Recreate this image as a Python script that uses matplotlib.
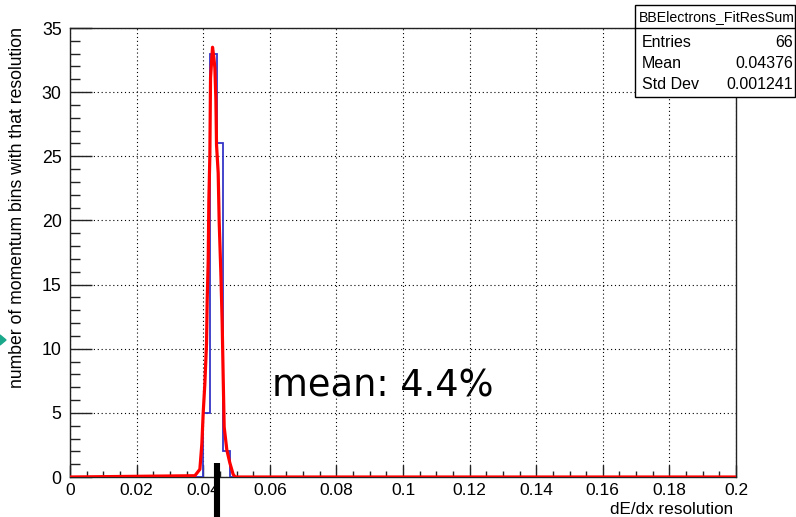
import numpy as np
import matplotlib
matplotlib.use('Agg')
import matplotlib.pyplot as plt
from matplotlib.patches import Rectangle, Polygon
from matplotlib.ticker import MultipleLocator

# histogram: 100 bins over 0..0.2, only a few filled
n_bins = 100
x_range = (0.0, 0.2)
filled_bins = [20, 21, 22, 23]          # bin index
filled_counts = [5, 33, 26, 2]

# fit curve as drawn
fit_x = [0.0, 0.0375, 0.0390, 0.0396, 0.0400, 0.0405, 0.0410, 0.0412, 0.0415, 0.0417,
         0.0420, 0.0422, 0.0428, 0.0432, 0.0435, 0.0438, 0.0440, 0.0445, 0.0448, 0.0453,
         0.0457, 0.0460, 0.0463, 0.0471, 0.0480, 0.0490, 0.0496, 0.2]
fit_y = [0.0, 0.1, 0.6, 2.6, 5.0, 7.3, 10.4, 13.8, 16.8, 21.6,
         25.1, 31.1, 33.5, 32.7, 31.9, 29.5, 25.9, 23.7, 19.9, 15.9,
         12.0, 7.8, 3.9, 2.1, 1.1, 0.2, 0.0, 0.0]

mean_marker = 0.044
mean_text = 'mean: 4.4%'

stats_title = 'BBElectrons_FitResSum'
stats_names = ['Entries', 'Mean', 'Std Dev']
stats_values = ['66', '0.04376', '0.001241']

x_title = 'dE/dx resolution'
y_title = 'number of momentum bins with that resolution'

plt.rcParams['font.family'] = ['Liberation Sans', 'DejaVu Sans']

W, H = 796, 517
fig = plt.figure(figsize=(W / 100, H / 100), dpi=100)
fig.patch.set_facecolor('white')

def fx(px):
	return px / W

def fy(py):
	return 1 - py / H

ax = fig.add_axes([fx(70), fy(477), (736 - 70) / W, (477 - 28) / H])

counts = np.zeros(n_bins)
for b, c in zip(filled_bins, filled_counts):
	counts[b] = c
edges = np.linspace(x_range[0], x_range[1], n_bins + 1)
ax.stairs(counts, edges, color='#3535c8', lw=1.3, zorder=3)
ax.plot(fit_x, fit_y, color='#ff0000', lw=2.3, zorder=4)

ax.set_xlim(*x_range)
ax.set_ylim(0, 35)
ax.xaxis.set_major_locator(MultipleLocator(0.02))
ax.xaxis.set_minor_locator(MultipleLocator(0.005))
ax.yaxis.set_major_locator(MultipleLocator(5))
ax.yaxis.set_minor_locator(MultipleLocator(1))
ax.xaxis.set_major_formatter(lambda v, p: '%g' % round(v, 4))
ax.grid(which='major', color='black', linestyle=(0, (1, 2.5)), lw=0.8, zorder=1)
ax.tick_params(axis='x', which='major', direction='in', length=9, width=1, labelsize=12.5, pad=4, color='#222222')
ax.tick_params(axis='x', which='minor', direction='in', length=4.5, width=1, color='#222222')
ax.tick_params(axis='y', which='major', direction='in', length=16, width=1, labelsize=12.8, pad=6, color='#222222')
ax.tick_params(axis='y', which='minor', direction='in', length=7.5, width=1, color='#222222')
for s in ax.spines.values():
	s.set_color('#222222')
	s.set_linewidth(1)

ax.text(0.0606, 6.25, mean_text, fontsize=26.5, family=['DejaVu Sans'], ha='left', va='baseline', zorder=5)
ax.plot([mean_marker, mean_marker], [1.1, -3.3], color='black', lw=4.4,
	solid_capstyle='butt', clip_on=False, zorder=6)

fig.text(fx(18), fy(27), y_title, rotation=90, ha='center', va='top', fontsize=12.7)
fig.text(fx(733), fy(510), x_title, ha='right', va='center', fontsize=12.3)

# stats box
fig.add_artist(Rectangle((fx(635), fy(97)), (795 - 635) / W, (97 - 5) / H,
	transform=fig.transFigure, facecolor='white', edgecolor='black', lw=1, zorder=10))
fig.add_artist(plt.Line2D([fx(635), fx(795)], [fy(28), fy(28)], transform=fig.transFigure,
	color='black', lw=1, zorder=11))
fig.text(fx(717), fy(17), stats_title, ha='center', va='center', fontsize=10.2, zorder=12)
for i, (nm, val) in enumerate(zip(stats_names, stats_values)):
	yb = 47 + i * 21
	fig.text(fx(642), fy(yb), nm, ha='left', va='baseline', fontsize=11.5, zorder=12)
	fig.text(fx(793), fy(yb), val, ha='right', va='baseline', fontsize=11.5, zorder=12)

# small green arrow at left edge
fig.add_artist(Polygon([[fx(0), fy(335)], [fx(6), fy(340)], [fx(0), fy(345)]], closed=True,
	transform=fig.transFigure, color='#1aa88a'))

fig.savefig('out.png', dpi=100)
